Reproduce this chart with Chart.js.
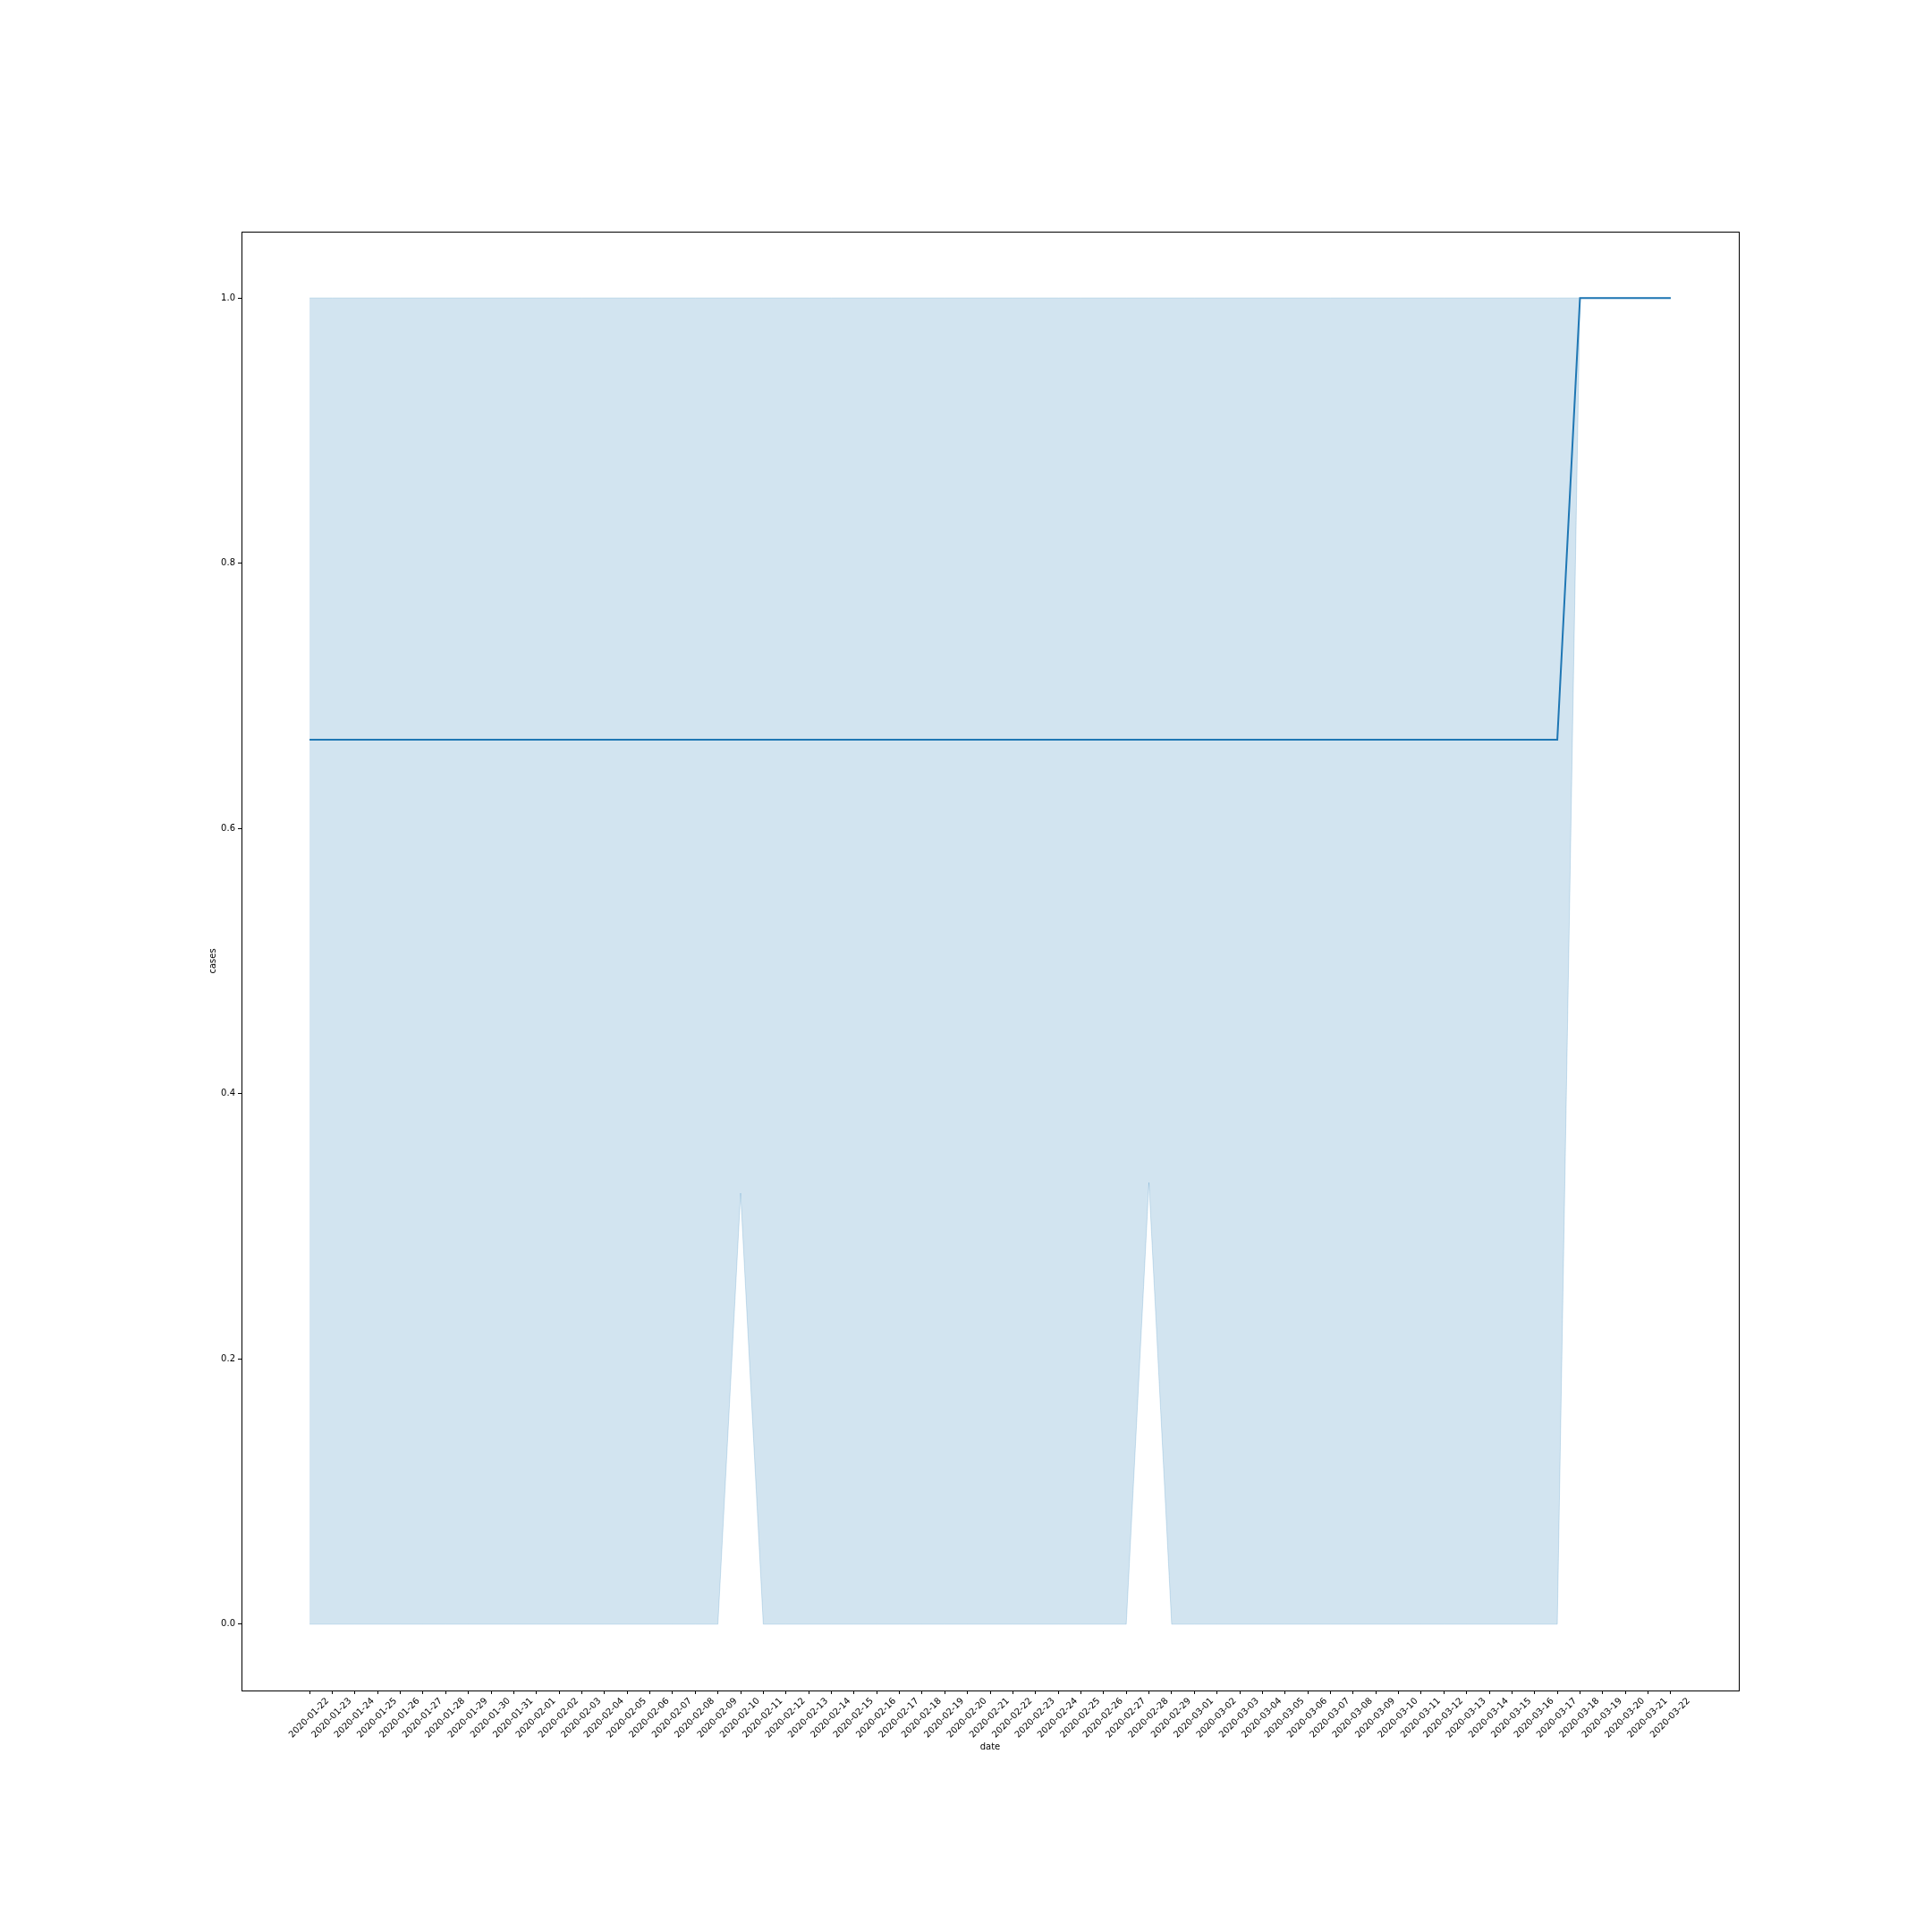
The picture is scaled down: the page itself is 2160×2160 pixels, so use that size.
<!DOCTYPE html>
<html>
<head>
<meta charset="utf-8">
<script src="https://cdn.jsdelivr.net/npm/chart.js@4/dist/chart.umd.min.js"></script>
<style>
html,body{margin:0;padding:0;background:#fff;}
#wrap{width:2160px;height:2160px;position:relative;}
</style>
</head>
<body>
<div id="wrap"><canvas id="c" width="2160" height="2160"></canvas></div>
<script>
const dates = [
  "2020-01-22","2020-01-23","2020-01-24","2020-01-25","2020-01-26","2020-01-27","2020-01-28","2020-01-29","2020-01-30","2020-01-31",
  "2020-02-01","2020-02-02","2020-02-03","2020-02-04","2020-02-05","2020-02-06","2020-02-07","2020-02-08","2020-02-09","2020-02-10",
  "2020-02-11","2020-02-12","2020-02-13","2020-02-14","2020-02-15","2020-02-16","2020-02-17","2020-02-18","2020-02-19","2020-02-20",
  "2020-02-21","2020-02-22","2020-02-23","2020-02-24","2020-02-25","2020-02-26","2020-02-27","2020-02-28","2020-02-29","2020-03-01",
  "2020-03-02","2020-03-03","2020-03-04","2020-03-05","2020-03-06","2020-03-07","2020-03-08","2020-03-09","2020-03-10","2020-03-11",
  "2020-03-12","2020-03-13","2020-03-14","2020-03-15","2020-03-16","2020-03-17","2020-03-18","2020-03-19","2020-03-20","2020-03-21",
  "2020-03-22"
];
const meanCases = [
  0.667,0.667,0.667,0.667,0.667,0.667,0.667,0.667,0.667,0.667,
  0.667,0.667,0.667,0.667,0.667,0.667,0.667,0.667,0.667,0.667,
  0.667,0.667,0.667,0.667,0.667,0.667,0.667,0.667,0.667,0.667,
  0.667,0.667,0.667,0.667,0.667,0.667,0.667,0.667,0.667,0.667,
  0.667,0.667,0.667,0.667,0.667,0.667,0.667,0.667,0.667,0.667,
  0.667,0.667,0.667,0.667,0.667,0.667,1,1,1,1,
  1
];
const ciLower = [
  0,0,0,0,0,0,0,0,0,0,
  0,0,0,0,0,0,0,0,0,0.325,
  0,0,0,0,0,0,0,0,0,0,
  0,0,0,0,0,0,0,0.333,0,0,
  0,0,0,0,0,0,0,0,0,0,
  0,0,0,0,0,0,1,1,1,1,
  1
];
const ciUpper = [
  1,1,1,1,1,1,1,1,1,1,
  1,1,1,1,1,1,1,1,1,1,
  1,1,1,1,1,1,1,1,1,1,
  1,1,1,1,1,1,1,1,1,1,
  1,1,1,1,1,1,1,1,1,1,
  1,1,1,1,1,1,1,1,1,1,
  1
];
const yTickValues = [0, 0.2, 0.4, 0.6, 0.8, 1.0];

const toXY = arr => arr.map((v, i) => ({x: i, y: v}));

const frame = {
  id: 'frame',
  afterDraw(chart) {
    const a = chart.chartArea, ctx = chart.ctx;
    ctx.save();
    ctx.strokeStyle = '#000';
    ctx.lineWidth = 1;
    ctx.strokeRect(Math.round(a.left) + 0.5, Math.round(a.top) + 0.5, Math.round(a.right - a.left), Math.round(a.bottom - a.top));
    ctx.restore();
  }
};

const font = {family: "'DejaVu Sans'", size: 10};

new Chart(document.getElementById('c'), {
  type: 'line',
  data: {
    datasets: [
      {label: 'cases', data: toXY(meanCases), borderColor: '#1f77b4', borderWidth: 2, pointRadius: 0, tension: 0, fill: false},
      {label: 'lower', data: toXY(ciLower), borderColor: 'rgba(31,119,180,0.2)', borderWidth: 1, pointRadius: 0, tension: 0, fill: false},
      {label: 'upper', data: toXY(ciUpper), borderColor: 'rgba(31,119,180,0.2)', borderWidth: 1, pointRadius: 0, tension: 0,
       fill: '-1', backgroundColor: 'rgba(31,119,180,0.2)'}
    ]
  },
  options: {
    responsive: false,
    animation: false,
    layout: {padding: {left: 200, right: 216, top: 259, bottom: 150}},
    plugins: {legend: {display: false}, tooltip: {enabled: false}},
    scales: {
      x: {
        type: 'linear',
        min: -3, max: 63,
        afterBuildTicks: s => { s.ticks = dates.map((d, i) => ({value: i})); },
        afterFit: s => { s.height = 120; },
        border: {display: false},
        grid: {drawOnChartArea: false, drawTicks: true, tickLength: 4, color: '#000'},
        ticks: {
          autoSkip: false, maxRotation: 45, minRotation: 45, color: '#000', font: font, padding: 2, labelOffset: 20,
          callback: v => dates[v]
        },
        title: {display: true, text: 'date', color: '#000', font: font, padding: {top: 0, bottom: 51}}
      },
      y: {
        type: 'linear',
        min: -0.05, max: 1.05,
        afterBuildTicks: s => { s.ticks = yTickValues.map(v => ({value: v})); },
        afterFit: s => { s.width = 70; },
        border: {display: false},
        grid: {drawOnChartArea: false, drawTicks: true, tickLength: 4, color: '#000'},
        ticks: {color: '#000', font: font, padding: 3, callback: v => Number(v).toFixed(1)},
        title: {display: true, text: 'cases', color: '#000', font: font, padding: {top: 32, bottom: 0}}
      }
    }
  },
  plugins: [frame]
});
</script>
</body>
</html>
